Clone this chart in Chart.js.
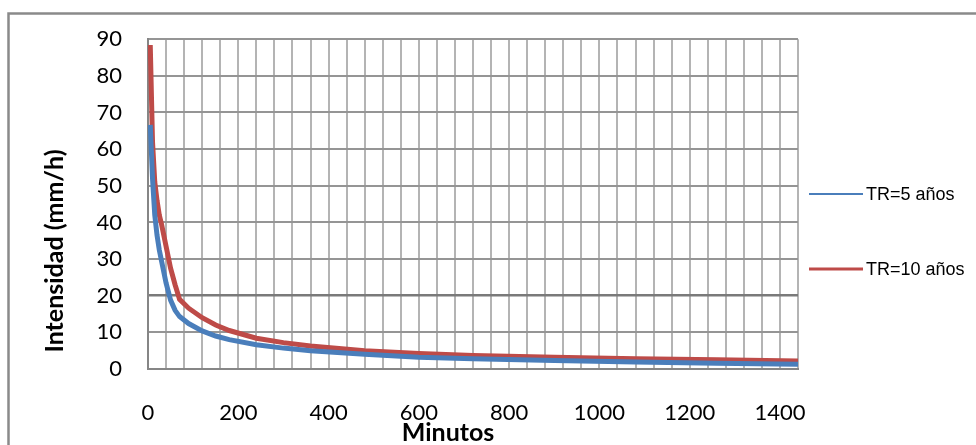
<!DOCTYPE html>
<html>
<head>
<meta charset="utf-8">
<script src="https://cdn.jsdelivr.net/npm/chart.js@4/dist/chart.umd.min.js"></script>
<style>
  html, body { margin: 0; padding: 0; background: #ffffff; }
  #wrap { width: 976px; height: 445px; position: relative; }
</style>
</head>
<body>
<div id="wrap"><canvas id="idf"></canvas></div>
<script>
// Duración de la lluvia (minutos)
const durations = [5, 10, 15, 20, 25, 30, 40, 50, 60, 70, 90, 120, 150, 180, 240, 300, 360, 480, 600, 720, 900, 1080, 1260, 1440];
// Intensidad (mm/h) para cada periodo de retorno
const intensityTR5  = [66.6, 52.0, 42.0, 36.5, 32.5, 29.5, 23.5, 18.8, 16.0, 14.3, 12.4, 10.4, 9.0, 8.0, 6.6, 5.7, 5.0, 4.0, 3.2, 2.8, 2.3, 1.9, 1.6, 1.3];
const intensityTR10 = [88.4, 62.0, 51.0, 46.0, 42.0, 39.5, 33.5, 27.5, 23.0, 19.0, 16.6, 14.0, 12.0, 10.5, 8.4, 7.2, 6.3, 5.0, 4.2, 3.7, 3.2, 2.8, 2.5, 2.2];
const seriesNames = ['TR=5 años', 'TR=10 años'];
const seriesColors = ['#4a7ebb', '#be4b48'];
const yTickLabels = [0, 10, 20, 30, 40, 50, 60, 70, 80, 90];
const xTickLabels = [0, 200, 400, 600, 800, 1000, 1200, 1400];
const xTitle = 'Minutos';
const yTitle = 'Intensidad (mm/h)';

const toPoints = (xs, ys) => xs.map((x, i) => ({ x: x, y: ys[i] }));

// Marco exterior, títulos de ejes y leyenda
const decorations = {
  id: 'decorations',
  afterDraw(chart) {
    const ctx = chart.ctx;
    ctx.save();
    // marco del gráfico
    ctx.strokeStyle = '#8a8a8a';
    ctx.lineWidth = 2.5;
    ctx.strokeRect(8.5, 13.5, 1100, 600);

    // títulos de ejes
    ctx.fillStyle = '#000000';
    ctx.font = 'bold 25px Lato';
    ctx.textAlign = 'center';
    ctx.textBaseline = 'alphabetic';
    ctx.fillText(xTitle, 448, 441);
    ctx.save();
    ctx.translate(63, 251);
    ctx.rotate(-Math.PI / 2);
    ctx.fillText(yTitle, 0, 0);
    ctx.restore();

    // leyenda
    const rows = [194, 269];
    const widths = [2, 3];
    ctx.font = '18px "Liberation Sans"';
    ctx.textAlign = 'left';
    ctx.textBaseline = 'middle';
    chart.data.datasets.forEach((ds, i) => {
      ctx.strokeStyle = ds.borderColor;
      ctx.lineWidth = widths[i];
      ctx.beginPath();
      ctx.moveTo(809, rows[i]);
      ctx.lineTo(863, rows[i]);
      ctx.stroke();
      ctx.fillStyle = '#000000';
      ctx.fillText(ds.label, 866, rows[i] + 1);
    });
    ctx.restore();
  }
};

new Chart(document.getElementById('idf'), {
  type: 'line',
  data: {
    datasets: [
      { label: seriesNames[0], data: toPoints(durations, intensityTR5), borderColor: seriesColors[0], backgroundColor: seriesColors[0], borderWidth: 5, pointRadius: 0, tension: 0, fill: false },
      { label: seriesNames[1], data: toPoints(durations, intensityTR10), borderColor: seriesColors[1], backgroundColor: seriesColors[1], borderWidth: 5, pointRadius: 0, tension: 0, fill: false }
    ]
  },
  options: {
    responsive: true,
    maintainAspectRatio: false,
    animation: false,
    layout: { padding: { left: 0, top: 39, right: 178, bottom: 0 } },
    plugins: { legend: { display: false }, tooltip: { enabled: false } },
    scales: {
      x: {
        type: 'linear',
        min: 0,
        max: 1440,
        afterFit(scale) { scale.height = 76; },
        afterBuildTicks(scale) {
          const t = [];
          for (let v = 0; v <= 1440; v += 40) t.push({ value: v });
          scale.ticks = t;
        },
        ticks: {
          autoSkip: false,
          maxRotation: 0,
          padding: 31,
          color: '#000000',
          font: { family: 'Lato', size: 22 },
          callback: (v) => xTickLabels.includes(v) ? String(v) : ''
        },
        grid: { color: '#b4b4b4', lineWidth: 2, drawTicks: false },
        border: { display: true, color: '#868686', width: 2 }
      },
      y: {
        min: 0,
        max: 90,
        afterFit(scale) { scale.width = 148; },
        afterBuildTicks(scale) { scale.ticks = yTickLabels.map(v => ({ value: v })); },
        ticks: {
          padding: 26,
          color: '#000000',
          font: { family: 'Lato', size: 22 },
          callback: (v) => String(v)
        },
        grid: {
          color: (c) => c.tick && c.tick.value === 20 ? '#7a7a7a' : '#959595',
          lineWidth: (c) => c.tick && c.tick.value === 20 ? 2.5 : 2,
          drawTicks: false
        },
        border: { display: true, color: '#868686', width: 2 }
      }
    }
  },
  plugins: [decorations]
});
</script>
</body>
</html>
